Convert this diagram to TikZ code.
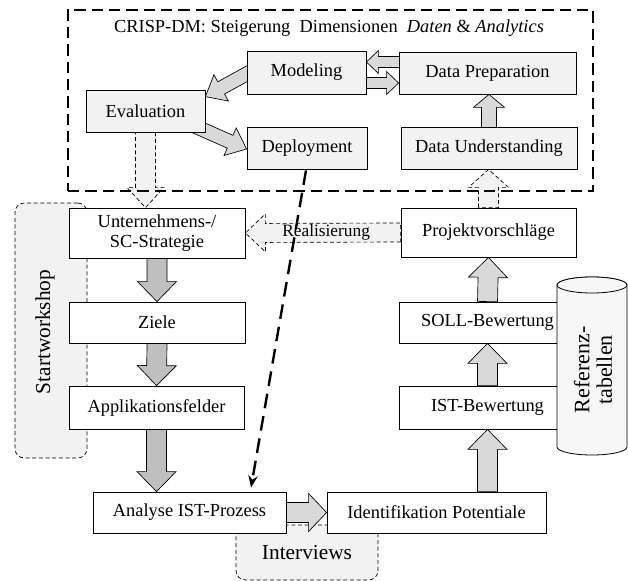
\documentclass[tikz,border=0pt]{standalone}
\usepackage{fontspec}
\setmainfont{Liberation Serif}
\usetikzlibrary{shapes.geometric, arrows.meta, calc}
\pgfdeclarelayer{back}
\pgfdeclarelayer{mid}
\pgfsetlayers{back,mid,main}

\tikzstyle{crisp} = [rectangle, draw=black, line width=0.6pt, fill=black!5, inner sep=0pt, text centered]
\tikzstyle{stepbox} = [rectangle, draw=black, line width=0.6pt, fill=white, inner sep=0pt, text centered, align=center]
\tikzstyle{group} = [rectangle, rounded corners=7pt, draw=black, line width=0.5pt, densely dashed, fill=black!5]
\tikzstyle{frame} = [rectangle, draw=black, line width=1.5pt, dash pattern=on 8.5pt off 4.5pt, inner sep=0pt]
\tikzstyle{lightarrow} = [draw=black, line width=0.5pt, fill=black!15]
\tikzstyle{darkarrow} = [draw=black, line width=0.5pt, fill=black!25]
\tikzstyle{planarrow} = [draw=black, line width=0.5pt, densely dashed, fill=black!5]
\tikzstyle{link} = [line width=1.8pt, dash pattern=on 11pt off 6pt, -{Stealth[length=9pt,width=7pt]}]
\tikzstyle{bigtext} = [font=\fontsize{16}{17}\selectfont]
\tikzstyle{tank} = [draw=black, line width=0.6pt, fill=black!3]

% block arrow: [style]{from}{to}{half shaft}{half head}{head length}
\newcommand{\fatarrow}[6][lightarrow]{%
  \coordinate (fa-a) at (#2);
  \coordinate (fa-b) at (#3);
  \coordinate (fa-h) at ($(fa-b)!#6!(fa-a)$);
  \draw[#1] ($(fa-a)!#4!90:(fa-b)$) -- ($(fa-h)!#4!90:(fa-b)$) -- ($(fa-h)!#5!90:(fa-b)$) -- (fa-b)
    -- ($(fa-h)!#5!-90:(fa-b)$) -- ($(fa-h)!#4!-90:(fa-b)$) -- ($(fa-a)!#4!-90:(fa-b)$) -- cycle;}

\begin{document}
\begin{tikzpicture}[x=0.75pt, y=-0.75pt, every node/.style={font=\fontsize{13.8}{15.5}\selectfont}]
    \useasboundingbox (0,0) rectangle (628,581);

    % CRISP-DM
    \node (crispframe) [frame, minimum width=393.75pt, minimum height=135.75pt] at (330.5,100.5) {};
    \node (title) at (329,28) {CRISP-DM: Steigerung\ \ Dimensionen\ \ \textit{Daten} \& \textit{Analytics}};
    \node (model) [crisp, minimum width=89.25pt, minimum height=32.25pt] at (306.5,72.5) {Modeling};
    \node (prep) [crisp, minimum width=132.75pt, minimum height=31.5pt] at (487.5,73) {Data Preparation};
    \node (eval) [crisp, minimum width=89.25pt, minimum height=31.5pt] at (145.5,111) {Evaluation};
    \node (deploy) [crisp, minimum width=90pt, minimum height=31.5pt] at (307,148) {Deployment};
    \node (underst) [crisp, minimum width=132pt, minimum height=31.5pt] at (489,148) {Data Understanding};

    % left column
    \node (unt) [stepbox, minimum width=132pt, minimum height=37.5pt] at (157,233) {Unternehmens-/\\SC-Strategie};
    \node (ziele) [stepbox, minimum width=132pt, minimum height=30.75pt] at (157,322.5) {Ziele};
    \node (appl) [stepbox, minimum width=131.25pt, minimum height=32.25pt] at (156.5,407.5) {Applikationsfelder};
    \node (analyse) [stepbox, minimum width=144.75pt, minimum height=30.75pt] at (189.5,512.5) {Analyse IST-Prozess};

    % right column
    \node (ident) [stepbox, minimum width=164.25pt, minimum height=30.75pt] at (436.5,512.5) {Identifikation Potentiale};
    \node (istb) [stepbox, minimum width=132.75pt, minimum height=32.25pt] at (487.5,407.5) {IST-Bewertung};
    \node (sollb) [stepbox, minimum width=132.75pt, minimum height=30.75pt] at (487.5,322.5) {SOLL-Bewertung};
    \node (projekt) [stepbox, minimum width=131.25pt, minimum height=36.75pt] at (488.5,232.5) {Projektvorschläge};

    % reference tables
    \draw [tank] (557,285) -- (557,447) arc[start angle=180, end angle=360, x radius=26.25pt, y radius=6pt]
        -- (627,285) arc[start angle=0, end angle=180, x radius=26.25pt, y radius=6pt] -- cycle;
    \draw [tank] (592,285) ellipse [x radius=26.25pt, y radius=6pt];
    \node (reftab) [rotate=90, align=center, font=\fontsize{16.5}{17}\selectfont] at (593,370) {Referenz-\\tabellen};

    \begin{pgfonlayer}{back}
        \node (startws) [group, minimum width=54pt, minimum height=191.25pt] at (51,330.5) {};
        \node (startlbl) [rotate=90, bigtext] at (45,332) {Startworkshop};
        \node (interv) [group, minimum width=106.5pt, minimum height=41.25pt, bigtext] at (307,552.5) {Interviews};
    \end{pgfonlayer}

    \begin{pgfonlayer}{mid}
        \fatarrow{$(model.west)+(8,-3)$}{$(eval.north east)+(0,7)$}{5.25pt}{11.25pt}{13.5pt}
        \fatarrow{$(eval.south east)+(-10,-6)$}{$(deploy.west)+(0,1)$}{5.25pt}{11.25pt}{13.5pt}
        \fatarrow{$(prep.west)+(5,-11)$}{$(model.east)+(0,-10.5)$}{4.125pt}{8.625pt}{9pt}
        \fatarrow{$(model.east)+(-5,10.5)$}{$(prep.west)+(0,10)$}{4.125pt}{8.625pt}{9pt}
        \fatarrow{$(underst.north)+(0,3)$}{underst.north |- prep.south}{5.625pt}{11.625pt}{9.75pt}
        \fatarrow[planarrow]{eval.south}{eval.south |- unt.north}{7.5pt}{13.875pt}{15pt}
        \fatarrow[darkarrow]{unt.south}{ziele.north}{7.5pt}{14.625pt}{15pt}
        \fatarrow[darkarrow]{ziele.south}{appl.north}{7.5pt}{14.625pt}{15pt}
        \fatarrow[darkarrow]{appl.south}{appl.south |- analyse.north}{7.5pt}{14.625pt}{15pt}
        \fatarrow{analyse.east}{ident.west}{7.5pt}{14.25pt}{13.5pt}
        \fatarrow{istb.south |- ident.north}{istb.south}{7.5pt}{14.625pt}{15pt}
        \fatarrow{istb.north}{sollb.south}{7.5pt}{14.625pt}{15pt}
        \fatarrow{sollb.north}{projekt.south}{7.5pt}{14.625pt}{15pt}
        \fatarrow[planarrow]{projekt.north}{projekt.north |- underst.south}{7.5pt}{15pt}{13.5pt}
        \fatarrow[planarrow]{projekt.west}{unt.east}{7.125pt}{14.25pt}{15pt}
    \end{pgfonlayer}
    \node (realis) [font=\fontsize{13}{14}\selectfont] at ($(projekt.west)!0.48!(unt.east)$) {Realisierung};

    \draw [link] ($(deploy.south)+(-1,1)$) -- ($(analyse.north)+(61.5,-4)$);
\end{tikzpicture}
\end{document}
